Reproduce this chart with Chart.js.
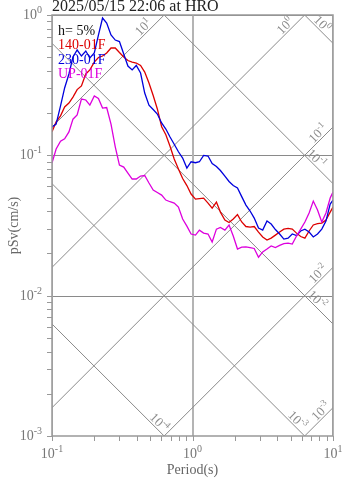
<!DOCTYPE html>
<html>
<head>
<meta charset="utf-8">
<script src="https://cdn.jsdelivr.net/npm/chart.js@4.4.1/dist/chart.umd.min.js"></script>
<style>
  html, body { margin: 0; padding: 0; background: #fff; }
  #wrap { width: 347px; height: 478px; }
</style>
</head>
<body>
<div id="wrap"><canvas id="myChart" width="347" height="478"></canvas></div>
<script>
// Period (s), shared by the three components
const periods = [0.100, 0.107, 0.115, 0.123, 0.132, 0.141, 0.151, 0.162, 0.174, 0.186,
  0.200, 0.214, 0.229, 0.245, 0.263, 0.282, 0.302, 0.324, 0.347, 0.372,
  0.398, 0.427, 0.457, 0.490, 0.525, 0.562, 0.603, 0.646, 0.692, 0.741,
  0.794, 0.851, 0.912, 0.977, 1.05, 1.12, 1.20, 1.29, 1.38, 1.48,
  1.58, 1.70, 1.82, 1.95, 2.09, 2.24, 2.40, 2.57, 2.75, 2.95,
  3.16, 3.39, 3.63, 3.89, 4.17, 4.47, 4.79, 5.13, 5.50, 5.89,
  6.31, 6.76, 7.24, 7.76, 8.32, 8.91, 9.55, 10.0];

// pSv (cm/s)
const sv140 = [0.147, 0.173, 0.191, 0.221, 0.236, 0.260, 0.294, 0.312, 0.380, 0.406,
  0.462, 0.498, 0.510, 0.536, 0.582, 0.582, 0.540, 0.502, 0.474, 0.462,
  0.455, 0.437, 0.392, 0.328, 0.267, 0.214, 0.160, 0.140, 0.116, 0.0941,
  0.0799, 0.0683, 0.0609, 0.0530, 0.0488, 0.0492, 0.0496, 0.0457, 0.0421, 0.0465,
  0.0394, 0.0346, 0.0332, 0.0352, 0.0378, 0.0335, 0.0311, 0.0308, 0.0311, 0.0284,
  0.0262, 0.0249, 0.0257, 0.0270, 0.0284, 0.0298, 0.0302, 0.0298, 0.0279, 0.0264,
  0.0257, 0.0289, 0.0319, 0.0326, 0.0329, 0.0346, 0.0394, 0.0428];

const sv230 = [0.159, 0.167, 0.225, 0.302, 0.380, 0.502, 0.563, 0.510, 0.554, 0.494,
  0.536, 0.720, 0.952, 0.877, 0.720, 0.663, 0.647, 0.527, 0.433, 0.406,
  0.437, 0.386, 0.278, 0.228, 0.212, 0.197, 0.170, 0.154, 0.135, 0.120,
  0.106, 0.0957, 0.0812, 0.0900, 0.0886, 0.0900, 0.100, 0.0989, 0.0874, 0.0832,
  0.0779, 0.0712, 0.0651, 0.0609, 0.0585, 0.0508, 0.0442, 0.0401, 0.0357, 0.0303,
  0.0293, 0.0340, 0.0324, 0.0296, 0.0275, 0.0253, 0.0257, 0.0275, 0.0268, 0.0289,
  0.0298, 0.0284, 0.0262, 0.0275, 0.0298, 0.0340, 0.0450, 0.0480];

const svUP = [0.0882, 0.111, 0.126, 0.131, 0.147, 0.181, 0.194, 0.252, 0.248, 0.228,
  0.265, 0.254, 0.217, 0.219, 0.167, 0.115, 0.0853, 0.0825, 0.0748, 0.0678,
  0.0678, 0.0712, 0.0718, 0.0635, 0.0566, 0.0543, 0.0521, 0.0480, 0.0467, 0.0457,
  0.0428, 0.0352, 0.0313, 0.0275, 0.0270, 0.0293, 0.0279, 0.0275, 0.0241, 0.0298,
  0.0306, 0.0293, 0.0319, 0.0266, 0.0215, 0.0222, 0.0223, 0.0220, 0.0217, 0.0188,
  0.0205, 0.0215, 0.0226, 0.0220, 0.0228, 0.0235, 0.0237, 0.0233, 0.0266, 0.0298,
  0.0335, 0.0388, 0.0472, 0.0408, 0.0335, 0.0388, 0.0496, 0.0547];

const seriesNames = ['140-01F', '230-01F', 'UP-01F'];
const seriesColors = ['#dd0000', '#0000dd', '#dd00dd'];
const dampingText = 'h= 5%';
const titleText = '2025/05/15 22:06 at HRO';

// tick decades
const xDecades = [-1, 0, 1];
const yDecades = [-3, -2, -1, 0];

// tripartite guide lines: displacement (cm) and acceleration (cm/s2) decades,
// with the period where each one is labelled
const dispDecades = [-4, -3, -2, -1, 0];
const dispLabelT = [0.54, 5.2, 7.2, 7.1, 7.8];
const accDecades = [-3, -2, -1, 0, 1];
const accLabelT = [8.8, 8.4, 8.4, 4.9, 0.48];

const SERIF = '"Liberation Serif", "DejaVu Serif", serif';
const TWO_PI = 2 * Math.PI;

function pow10Text(ctx, e, x, y, size, align) {
  const base = '10', sup = String(e);
  const small = Math.round(size * 0.72);
  ctx.font = size + 'px ' + SERIF;
  const wb = ctx.measureText(base).width;
  ctx.font = small + 'px ' + SERIF;
  const ws = ctx.measureText(sup).width;
  const w = wb + ws;
  let x0 = x - w / 2;
  if (align === 'right') x0 = x - w;
  if (align === 'left') x0 = x;
  ctx.textAlign = 'left';
  ctx.textBaseline = 'alphabetic';
  ctx.font = size + 'px ' + SERIF;
  ctx.fillText(base, x0, y);
  ctx.font = small + 'px ' + SERIF;
  ctx.fillText(sup, x0 + wb, y - size * 0.42);
}

const tripartite = {
  id: 'tripartite',
  beforeDatasetsDraw(chart) {
    const { ctx, chartArea: a, scales: { x, y } } = chart;
    ctx.save();
    ctx.beginPath();
    ctx.rect(a.left, a.top, a.right - a.left, a.bottom - a.top);
    ctx.clip();

    // major grid
    ctx.strokeStyle = '#8a8a8a';
    ctx.lineWidth = 1.2;
    yDecades.forEach(e => {
      const py = Math.round(y.getPixelForValue(Math.pow(10, e))) + 0.5;
      ctx.beginPath(); ctx.moveTo(a.left, py); ctx.lineTo(a.right, py); ctx.stroke();
    });
    ctx.strokeStyle = '#b4b4b4';
    ctx.lineWidth = 2;
    xDecades.forEach(e => {
      const px = Math.round(x.getPixelForValue(Math.pow(10, e)));
      ctx.beginPath(); ctx.moveTo(px, a.top); ctx.lineTo(px, a.bottom); ctx.stroke();
    });

    // diagonal lines
    ctx.strokeStyle = '#8a8a8a';
    ctx.lineWidth = 1;
    const t0 = 0.1, t1 = 10;
    dispDecades.forEach(e => {
      const d = Math.pow(10, e);
      ctx.beginPath();
      ctx.moveTo(x.getPixelForValue(t0), y.getPixelForValue(TWO_PI * d / t0));
      ctx.lineTo(x.getPixelForValue(t1), y.getPixelForValue(TWO_PI * d / t1));
      ctx.stroke();
    });
    accDecades.forEach(e => {
      const acc = Math.pow(10, e);
      ctx.beginPath();
      ctx.moveTo(x.getPixelForValue(t0), y.getPixelForValue(acc * t0 / TWO_PI));
      ctx.lineTo(x.getPixelForValue(t1), y.getPixelForValue(acc * t1 / TWO_PI));
      ctx.stroke();
    });

    // labels along the diagonals
    ctx.fillStyle = '#8c8c8c';
    const gap = 2;
    dispDecades.forEach((e, i) => {
      const T = dispLabelT[i];
      const px = x.getPixelForValue(T), py = y.getPixelForValue(TWO_PI * Math.pow(10, e) / T);
      ctx.save();
      ctx.translate(px + gap * Math.SQRT1_2, py - gap * Math.SQRT1_2);
      ctx.rotate(Math.PI / 4);
      pow10Text(ctx, e, 0, 0, 13, 'center');
      ctx.restore();
    });
    accDecades.forEach((e, i) => {
      const T = accLabelT[i];
      const px = x.getPixelForValue(T), py = y.getPixelForValue(Math.pow(10, e) * T / TWO_PI);
      ctx.save();
      ctx.translate(px - gap * Math.SQRT1_2, py - gap * Math.SQRT1_2);
      ctx.rotate(-Math.PI / 4);
      pow10Text(ctx, e, 0, 0, 13, 'center');
      ctx.restore();
    });
    ctx.restore();
  },
  afterDatasetsDraw(chart) {
    const { ctx, chartArea: a, scales: { x, y } } = chart;
    ctx.save();

    // frame
    ctx.strokeStyle = '#999999';
    ctx.lineWidth = 1.5;
    ctx.strokeRect(a.left, a.top, a.right - a.left, a.bottom - a.top);

    // ticks (outward), minor ones at 2..9
    ctx.strokeStyle = '#999999';
    ctx.lineWidth = 1;
    for (let e = -1; e <= 1; e++) {
      for (let m = 1; m <= 9; m++) {
        const v = m * Math.pow(10, e);
        if (v > 10.0001) break;
        const px = Math.round(x.getPixelForValue(v)) + 0.5;
        ctx.beginPath(); ctx.moveTo(px, a.bottom); ctx.lineTo(px, a.bottom + 5); ctx.stroke();
      }
    }
    for (let e = -3; e <= 0; e++) {
      for (let m = 1; m <= 9; m++) {
        const v = m * Math.pow(10, e);
        if (v > 1.0001) break;
        const py = Math.round(y.getPixelForValue(v)) + 0.5;
        ctx.beginPath(); ctx.moveTo(a.left - 5, py); ctx.lineTo(a.left, py); ctx.stroke();
      }
    }

    // tick labels
    ctx.fillStyle = '#777777';
    xDecades.forEach(e => {
      pow10Text(ctx, e, x.getPixelForValue(Math.pow(10, e)), a.bottom + 22, 14, 'center');
    });
    yDecades.forEach(e => {
      pow10Text(ctx, e, a.left - 10, y.getPixelForValue(Math.pow(10, e)) + 4, 14, 'right');
    });

    // axis titles
    ctx.fillStyle = '#666666';
    ctx.font = '14px ' + SERIF;
    ctx.textAlign = 'center';
    ctx.textBaseline = 'alphabetic';
    ctx.fillText('Period(s)', (a.left + a.right) / 2, a.bottom + 38);
    ctx.save();
    ctx.translate(18, (a.top + a.bottom) / 2);
    ctx.rotate(-Math.PI / 2);
    ctx.fillText('pSv(cm/s)', 0, 0);
    ctx.restore();

    // title
    ctx.fillStyle = '#222222';
    ctx.font = '16px ' + SERIF;
    ctx.textAlign = 'left';
    ctx.fillText(titleText, a.left, 11);

    // legend inside the plot
    ctx.font = '14px ' + SERIF;
    ctx.fillStyle = '#111111';
    ctx.fillText(dampingText, a.left + 6, a.top + 20);
    chart.data.datasets.forEach((ds, i) => {
      ctx.fillStyle = ds.borderColor;
      ctx.fillText(ds.label, a.left + 6, a.top + 34 + i * 14.5);
    });
    ctx.restore();
  }
};

const makeSet = (label, values, color, order) => ({
  label: label,
  data: periods.map((t, i) => ({ x: t, y: values[i] })),
  borderColor: color,
  backgroundColor: color,
  borderWidth: 1.3,
  pointRadius: 0,
  tension: 0,
  fill: false,
  order: order
});

new Chart(document.getElementById('myChart'), {
  type: 'line',
  data: {
    datasets: [
      makeSet(seriesNames[0], sv140, seriesColors[0], 2),
      makeSet(seriesNames[1], sv230, seriesColors[1], 1),
      makeSet(seriesNames[2], svUP, seriesColors[2], 0)
    ]
  },
  options: {
    responsive: false,
    animation: false,
    layout: { padding: { left: 52, right: 14, top: 15, bottom: 42 } },
    plugins: { legend: { display: false }, tooltip: { enabled: false } },
    scales: {
      x: { type: 'logarithmic', min: 0.1, max: 10, display: false },
      y: { type: 'logarithmic', min: 0.001, max: 1, display: false }
    }
  },
  plugins: [tripartite]
});
</script>
</body>
</html>
